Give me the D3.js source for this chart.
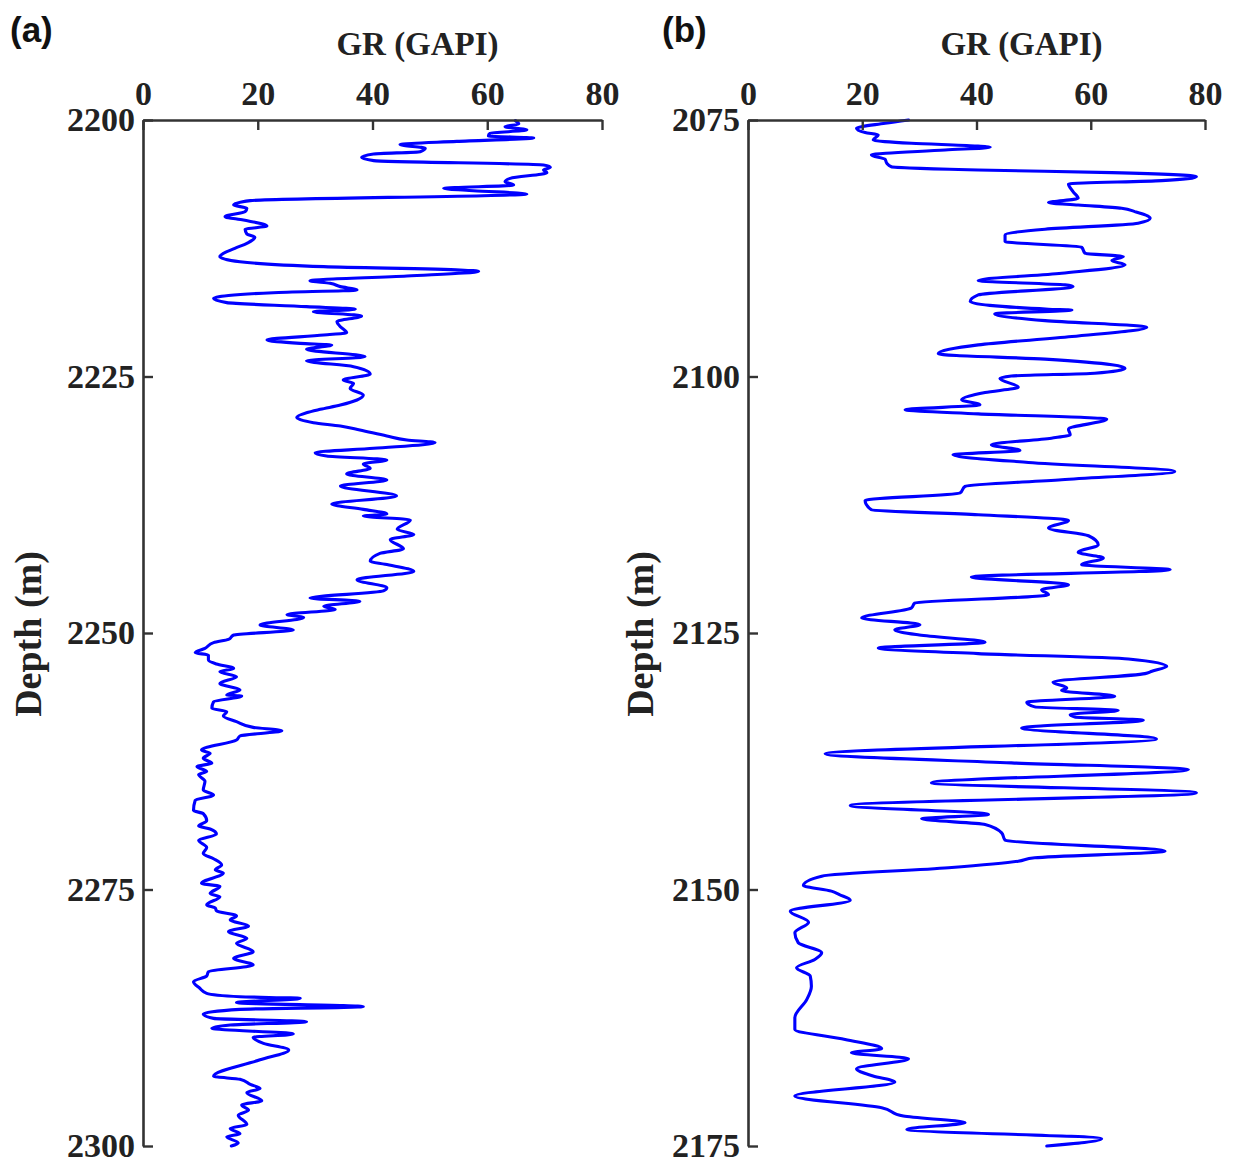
<!DOCTYPE html>
<html>
<head>
<meta charset="utf-8">
<script src="https://cdn.jsdelivr.net/npm/d3@7"></script>
<style>
  html, body { margin: 0; padding: 0; background: #fff; }
  svg { display: block; }
</style>
</head>
<body>
<svg id="chart" width="1234" height="1163"></svg>
<script>
// ---------- DATA ----------
const grTicks = [0, 20, 40, 60, 80];
const depthTicksA = [2200, 2225, 2250, 2275, 2300];
const depthTicksB = [2075, 2100, 2125, 2150, 2175];

// Panel (a): [depth (m), GR (GAPI)]
const wellA = [
  [2200.06,64.9],[2200.39,65.5],[2200.65,63.1],[2200.97,66.9],[2201.3,60.5],[2201.56,60.2],
  [2201.75,68.1],[2202.08,54.7],[2202.4,44.8],[2202.76,49.2],[2203.09,48.3],[2203.31,40.2],
  [2203.64,38.1],[2203.96,40.2],[2204.39,69.8],[2204.61,71.0],[2204.87,69.8],[2205.13,70.4],
  [2205.69,64.0],[2206.01,63.1],[2206.34,64.6],[2206.66,52.4],[2206.89,57.6],[2207.21,66.9],
  [2207.86,18.7],[2208.28,15.8],[2208.61,18.1],[2208.93,17.8],[2209.42,14.3],[2209.75,17.5],
  [2210.33,21.6],[2210.66,17.8],[2211.11,18.1],[2211.44,19.5],[2212.02,18.1],[2212.51,16.0],
  [2213.32,13.4],[2213.81,16.9],[2214.29,31.5],[2214.62,55.3],[2214.75,58.5],[2215.2,46.0],
  [2215.66,29.1],[2215.92,32.6],[2216.24,34.4],[2216.57,37.3],[2216.83,22.7],[2217.38,12.3],
  [2217.8,14.6],[2218.19,28.5],[2218.45,37.0],[2218.68,29.7],[2219.1,38.1],[2219.66,33.8],
  [2220.14,34.4],[2220.73,35.5],[2220.96,31.5],[2221.44,21.6],[2221.77,27.4],[2221.93,32.9],
  [2222.35,28.5],[2223.07,38.7],[2223.46,28.5],[2224.04,36.7],[2224.76,39.6],[2225.34,34.9],
  [2225.67,36.7],[2226.16,36.1],[2226.81,38.4],[2227.29,37.3],[2227.78,34.4],[2228.2,30.9],
  [2228.53,28.5],[2228.98,26.8],[2229.5,29.7],[2229.83,34.4],[2230.22,37.8],[2230.8,42.5],
  [2231.19,46.0],[2231.45,50.9],[2232.0,40.2],[2232.43,30.0],[2232.75,32.0],[2233.14,42.5],
  [2233.53,38.4],[2233.95,39.6],[2234.5,35.5],[2235.09,42.5],[2235.68,34.4],[2236.65,44.2],
  [2237.43,32.9],[2237.95,38.4],[2238.4,42.5],[2238.6,38.4],[2238.98,46.6],[2239.9,44.3],
  [2240.4,47.2],[2240.9,43.1],[2241.8,45.4],[2242.24,41.3],[2243.0,39.6],[2243.3,42.2],
  [2244.0,47.2],[2244.8,37.3],[2245.6,42.5],[2245.9,41.9],[2246.6,29.1],[2246.9,37.8],
  [2247.4,31.5],[2247.7,33.5],[2248.2,25.1],[2248.5,28.0],
  [2249.22,20.4],[2249.71,26.2],[2250.2,15.8],[2250.62,14.9],[2250.94,12.3],[2251.5,10.8],
  [2251.92,9.1],[2252.15,11.4],[2252.63,11.4],[2253.02,12.8],[2253.45,15.8],[2253.77,13.4],
  [2254.26,16.3],[2254.91,13.4],[2255.56,16.9],[2256.05,14.6],[2256.14,17.2],[2256.7,12.3],
  [2257.34,12.0],[2257.67,14.6],[2258.09,14.0],[2258.64,16.3],[2259.2,19.2],[2259.52,24.2],
  [2260.04,16.9],[2260.43,16.3],[2261.4,10.2],[2261.73,11.7],[2262.2,10.5],[2262.7,12.0],
  [2263.0,9.4],[2263.5,11.1],[2263.8,9.7],[2264.45,10.8],[2265.3,10.5],[2265.8,12.3],
  [2266.3,9.1],[2267.3,8.8],[2267.6,10.5],[2268.3,11.1],[2268.8,9.7],[2269.1,11.7],
  [2269.6,12.8],[2270.2,9.7],[2270.9,11.1],[2271.5,10.5],[2272.0,12.3],[2272.6,13.7],
  [2273.1,12.6],[2273.4,14.0],[2274.4,10.2],[2274.7,13.4],[2275.4,11.7],[2275.7,13.4],
  [2276.5,11.1],[2276.8,12.6],
  [2277.06,12.8],[2277.58,16.3],[2277.97,15.2],[2278.56,18.4],[2279.11,14.9],[2279.76,18.1],
  [2280.25,16.3],[2281.06,19.2],[2281.71,15.8],[2282.36,19.2],[2283.01,11.4],[2283.43,11.1],
  [2283.98,8.8],[2284.63,9.9],[2285.12,11.1],[2285.45,16.9],[2285.61,27.4],[2286.03,16.3],
  [2286.42,38.4],[2286.68,16.9],[2287.14,10.5],[2287.56,12.3],[2287.88,28.5],[2288.21,15.2],
  [2288.53,12.0],[2289.09,26.2],[2289.41,19.2],[2290.0,21.0],[2290.64,25.4],[2291.6,20.4],
  [2293.2,12.3],[2293.5,16.9],[2294.0,18.7],[2294.4,20.4],[2294.8,18.1],[2295.6,20.7],
  [2296.0,17.2],[2296.5,18.4],[2297.0,16.6],[2297.9,18.1],[2298.3,15.2],[2298.8,16.9],
  [2299.1,14.6],[2299.7,16.6],[2300.0,15.4]
];

// Panel (b): [depth (m), GR (GAPI)]
const wellB = [
  [2075.0,28.1],[2075.32,24.0],[2075.81,19.0],[2076.23,20.5],[2076.46,22.8],[2076.95,21.9],
  [2077.27,28.6],[2077.53,39.7],[2077.66,42.4],[2077.92,34.5],[2078.41,21.6],[2078.83,24.0],
  [2079.22,24.3],[2079.55,25.1],[2079.87,40.3],[2080.13,63.7],[2080.52,78.5],[2080.91,72.4],
  [2081.23,56.1],[2081.98,56.9],[2082.63,57.8],[2083.05,52.6],[2083.28,57.8],[2083.6,65.4],
  [2083.93,67.7],[2084.58,70.4],[2085.06,68.3],[2085.65,52.0],[2086.2,45.0],[2086.85,45.0],
  [2087.4,58.4],[2087.99,59.0],[2088.31,65.7],[2088.7,63.7],[2089.12,66.0],[2089.94,54.9],
  [2090.65,40.3],[2091.07,55.5],[2091.23,56.9],[2092.05,40.3],[2092.69,38.9],[2093.44,52.6],
  [2093.51,56.7],[2093.9,43.2],[2094.55,52.0],[2095.19,69.8],[2096.1,56.7],[2096.92,40.3],
  [2097.79,33.3],[2098.31,52.0],[2098.86,63.7],[2099.19,66.0],[2099.68,60.7],[2099.95,46.1],
  [2100.2,44.1],[2101.04,47.3],[2101.56,41.5],[2102.27,37.4],[2102.76,40.6],[2103.25,27.5],
  [2103.64,40.3],[2104.15,62.8],[2105.13,56.1],[2105.68,56.4],[2106.01,53.1],[2106.66,42.6],
  [2107.21,47.6],[2107.63,35.9],[2108.38,49.1],[2109.25,74.7],[2110.06,54.9],[2110.71,38.0],
  [2111.36,37.1],[2112.08,20.5],[2112.99,21.6],[2113.47,40.3],[2114.03,56.1],[2114.77,52.6],
  [2115.52,59.6],[2116.4,61.3],[2117.14,57.8],[2117.69,62.2],[2118.34,58.4],[2118.83,73.9],
  [2119.54,39.1],[2120.29,56.1],[2120.78,51.4],[2121.27,52.6],[2122.08,29.2],[2122.56,28.6],
  [2123.54,19.9],[2124.19,30.1],[2124.68,25.7],[2125.2,30.0],[2125.9,41.5],[2126.46,22.8],
  [2127.01,40.3],[2127.53,66.6],[2128.24,73.3],[2128.73,70.7],[2128.96,69.5],[2129.8,53.4],
  [2130.35,55.8],[2130.61,54.9],[2131.16,64.2],[2131.75,48.8],[2132.2,50.2],[2132.56,64.8],
  [2132.95,56.4],[2133.18,57.2],[2133.5,69.2],[2134.25,47.9],[2135.32,71.5],[2136.78,13.5],
  [2137.66,46.1],[2138.31,77.1],[2139.6,32.1],[2140.58,78.5],[2141.81,17.9],[2142.69,42.1],
  [2143.11,30.4],[2143.66,41.5],[2144.48,44.4],[2145.19,45.0],[2146.26,73.0],[2146.91,50.2],
  [2147.24,47.3],[2147.88,35.1],[2148.7,12.9],[2149.6,9.7],[2150.16,14.6],[2150.5,16.0],
  [2151.04,17.9],[2152.11,7.4],[2153.18,10.6],[2154.22,8.2],[2155.19,8.8],[2156.17,12.9],
  [2156.82,11.7],[2157.63,8.5],[2158.44,10.9],[2159.42,11.1],[2160.71,10.3],[2162.5,8.2],
  [2163.64,8.2],[2164.61,17.0],[2165.52,23.4],[2165.91,18.1],[2166.49,28.1],[2167.47,19.0],
  [2168.18,21.9],[2168.77,25.7],[2170.13,8.2],[2171.27,23.4],[2172.08,27.2],[2172.73,38.0],
  [2173.38,27.8],[2174.29,61.9],[2175.0,52.3]
];

// ---------- DRAW ----------
const svg = d3.select("#chart");
const axisColor = "#333333";
const serif = "'Liberation Serif', 'Times New Roman', serif";

function drawPanel(cfg) {
  const x = d3.scaleLinear().domain([0, 80]).range([cfg.left, cfg.right]);
  const y = d3.scaleLinear().domain(cfg.depthDomain).range([cfg.top, cfg.bottom]);
  const g = svg.append("g");

  // curve
  const line = d3.line()
    .x(d => x(d[1]))
    .y(d => y(d[0]))
    .curve(d3.curveMonotoneY);
  g.append("path")
    .datum(cfg.data)
    .attr("d", line)
    .attr("fill", "none")
    .attr("stroke", "#0000ff")
    .attr("stroke-width", 3.1)
    .attr("stroke-linejoin", "round")
    .attr("stroke-linecap", "round");

  // top axis
  const xAxis = d3.axisTop(x).tickValues(grTicks).tickSizeInner(-10).tickSizeOuter(0).tickPadding(15)
    .tickFormat(d3.format("d"));
  const gx = g.append("g").attr("transform", `translate(0,${cfg.top})`).call(xAxis);
  // left axis
  const yAxis = d3.axisLeft(y).tickValues(cfg.depthTicks).tickSizeInner(-10).tickSizeOuter(0).tickPadding(8)
    .tickFormat(d3.format("d"));
  const gy = g.append("g").attr("transform", `translate(${cfg.left},0)`).call(yAxis);

  [gx, gy].forEach(a => {
    a.select(".domain").attr("stroke", axisColor).attr("stroke-width", 2.6);
    a.selectAll(".tick line").attr("stroke", axisColor).attr("stroke-width", 2.4);
    a.selectAll(".tick text")
      .attr("fill", "#222")
      .style("font-family", serif)
      .style("font-weight", "bold")
      .style("font-size", "34px");
  });

  // x label
  g.append("text")
    .attr("x", (cfg.left + cfg.right) / 2 + 45)
    .attr("y", 55)
    .attr("text-anchor", "middle")
    .attr("fill", "#222")
    .style("font-family", serif)
    .style("font-weight", "bold")
    .style("font-size", "33px")
    .text("GR (GAPI)");

  // y label
  g.append("text")
    .attr("transform", `translate(${cfg.ylabelX},${(cfg.top + cfg.bottom) / 2 + 1}) rotate(-90)`)
    .attr("text-anchor", "middle")
    .attr("fill", "#222")
    .style("font-family", serif)
    .style("font-weight", "bold")
    .style("font-size", "38px")
    .text("Depth (m)");

  // panel letter
  g.append("text")
    .attr("x", cfg.letterX)
    .attr("y", 42)
    .attr("fill", "#111")
    .style("font-family", "'Liberation Sans', Arial, sans-serif")
    .style("font-weight", "bold")
    .style("font-size", "35px")
    .text(cfg.letter);
}

drawPanel({ left: 143, right: 602, top: 120, bottom: 1146, depthDomain: [2200, 2300],
  depthTicks: depthTicksA, data: wellA, ylabelX: 41, letter: "(a)", letterX: 10 });
drawPanel({ left: 748, right: 1205, top: 120, bottom: 1146, depthDomain: [2075, 2175],
  depthTicks: depthTicksB, data: wellB, ylabelX: 653, letter: "(b)", letterX: 662 });
</script>
</body>
</html>
